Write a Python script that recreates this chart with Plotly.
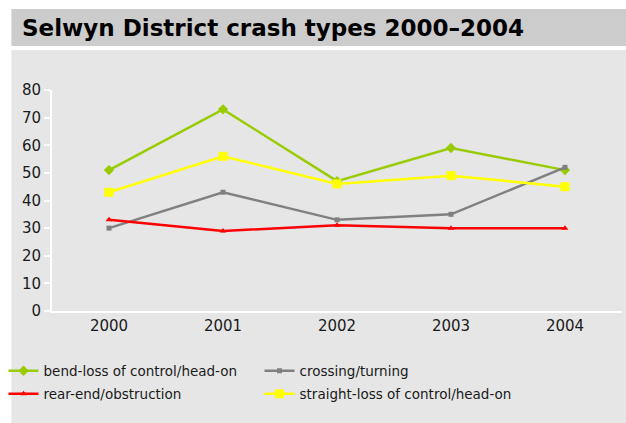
import plotly.graph_objects as go

W, H = 626, 423

years = ["2000", "2001", "2002", "2003", "2004"]
bend_loss = [51, 73, 47, 59, 51]
crossing = [30, 43, 33, 35, 52]
rear_end = [33, 29, 31, 30, 30]
straight_loss = [43, 56, 46, 49, 45]

# name, values, colour, marker, marker size, legend row
series = [
    ("bend-loss of control/head-on", bend_loss, "#99cc00", "diamond", 8, "legend"),
    ("crossing/turning", crossing, "#808080", "square", 5, "legend"),
    ("rear-end/obstruction", rear_end, "#ff0000", "triangle-up", 6, "legend2"),
    ("straight-loss of control/head-on", straight_loss, "#ffff00", "square", 9, "legend2"),
]

# plot area edges in pixels
X0, X1, Y0, Y1 = 46, 622, 90, 311


def px_x(x):
    # pixel -> paper x
    return (x - X0) / (X1 - X0)


def px_y(y):
    # pixel -> paper y
    return (Y1 - y) / (Y1 - Y0)


fig = go.Figure()
for name, vals, color, symbol, size, leg in series:
    fig.add_trace(go.Scatter(
        x=years, y=vals, name=name, mode="lines+markers",
        line=dict(color=color, width=2.5),
        marker=dict(symbol=symbol, size=size, color=color),
        legend=leg,
    ))

shapes = [
    # title band
    dict(type="rect", xref="paper", yref="paper", layer="below",
         x0=px_x(5), x1=px_x(W + 2), y0=px_y(9), y1=px_y(46),
         fillcolor="#cccccc", line=dict(width=0)),
    # chart panel
    dict(type="rect", xref="paper", yref="paper", layer="below",
         x0=px_x(5), x1=px_x(W + 2), y0=px_y(50), y1=px_y(H + 2),
         fillcolor="#e6e6e6", line=dict(width=0)),
]

legend_style = dict(orientation="h", xanchor="left", yanchor="middle",
                    entrywidth=211, entrywidthmode="pixels", itemwidth=30,
                    font=dict(size=13.5, color="#1a1a1a"),
                    bgcolor="rgba(0,0,0,0)")

fig.update_layout(
    width=W, height=H,
    margin=dict(l=X0, r=W - X1, t=Y0, b=H - Y1),
    paper_bgcolor="white",
    plot_bgcolor="#e6e6e6",
    shapes=shapes,
    font=dict(family="DejaVu Sans, Verdana, sans-serif", size=15, color="#1a1a1a"),
    title=dict(text="<b>Selwyn District crash types 2000\u20132004</b>",
               x=22 / W, xanchor="left", y=1 - 28 / H, yanchor="middle",
               font=dict(size=23, color="black")),
    showlegend=True,
    legend=dict(legend_style, x=px_x(-3), y=px_y(371)),
    legend2=dict(legend_style, x=px_x(-3), y=px_y(394)),
    xaxis=dict(type="category", range=[-0.5, 4.5], showgrid=False,
               showline=True, linecolor="white", linewidth=2,
               ticks="", zeroline=False, tickfont=dict(size=15)),
    yaxis=dict(range=[0, 80], dtick=10, showgrid=False,
               showline=True, linecolor="white", linewidth=2,
               ticks="outside", tickcolor="white", ticklen=6, tickwidth=2,
               zeroline=False, tickfont=dict(size=15)),
)

# drop the default page margin so the figure sits at the window's top-left
fig.write_html("out.html", config={"displayModeBar": False},
               post_script="document.body.style.margin='0';")
